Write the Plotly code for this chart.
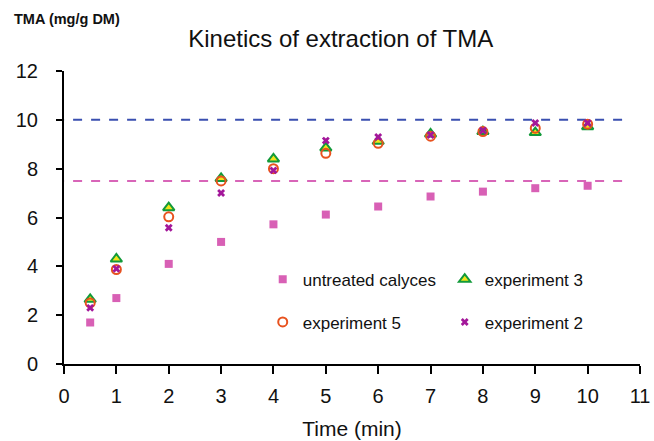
import plotly.graph_objects as go

time = [0.5, 1, 2, 3, 4, 5, 6, 7, 8, 9, 10]
untreated = [1.7, 2.7, 4.1, 5.0, 5.72, 6.12, 6.45, 6.86, 7.06, 7.2, 7.3]
exp3 = [2.65, 4.3, 6.4, 7.6, 8.4, 8.85, 9.12, 9.42, 9.52, 9.48, 9.72]
exp5 = [2.5, 3.87, 6.03, 7.5, 8.0, 8.63, 9.04, 9.33, 9.52, 9.66, 9.82]
exp2 = [2.3, 3.9, 5.58, 7.0, 7.93, 9.15, 9.3, 9.38, 9.56, 9.87, 9.87]
ref_levels = [10, 7.5]
ref_colors = ["#3A4FB0", "#D865B8"]
ref_span = [-0.17, 10.68]

font = "Liberation Sans, Arial, sans-serif"
fig = go.Figure()
fig.add_trace(go.Scatter(x=time, y=untreated, mode="markers", name="untreated calyces",
                         marker=dict(symbol="square", size=8, color="#D860B5"), legend="legend"))
fig.add_trace(go.Scatter(x=time, y=exp3, mode="markers", name="experiment 3",
                         marker=dict(symbol="triangle-up", size=10, color="#F2E51A",
                                     line=dict(color="#129A3A", width=2)), legend="legend"))
fig.add_trace(go.Scatter(x=time, y=exp5, mode="markers", name="experiment 5",
                         marker=dict(symbol="circle-open", size=9, color="#E8521E",
                                     line=dict(width=2)), legend="legend2"))
fig.add_trace(go.Scatter(x=time, y=exp2, mode="markers", name="experiment 2",
                         marker=dict(symbol="x", size=7, color="#A3179A",
                                     line=dict(width=0)), legend="legend2"))

for lvl, col in zip(ref_levels, ref_colors):
    fig.add_shape(type="line", xref="x", yref="y", x0=ref_span[0], x1=ref_span[1],
                  y0=lvl, y1=lvl, line=dict(color=col, width=2, dash="dash"), layer="below")

legend_common = dict(orientation="h", entrywidth=137, font=dict(family=font, size=17, color="#111"),
                     bgcolor="rgba(0,0,0,0)", itemwidth=30, xanchor="left", yanchor="middle")

fig.update_layout(
    width=654, height=441,
    margin=dict(l=64, r=14, t=71, b=77, autoexpand=False),
    paper_bgcolor="white", plot_bgcolor="white",
    font=dict(family=font, color="#111"),
    title=dict(text="Kinetics of extraction of TMA", x=0.521, xanchor="center",
               y=0.912, yanchor="middle", font=dict(size=24, family=font, color="#111")),
    legend=dict(x=0.345, y=0.288, **legend_common),
    legend2=dict(x=0.345, y=0.142, **legend_common),
    xaxis=dict(range=[0, 11], tickmode="linear", dtick=1, showline=True, linecolor="black",
               linewidth=2, ticks="outside", ticklen=8, tickwidth=1.5, tickcolor="black",
               showgrid=False, zeroline=False, tickfont=dict(size=20, family=font),
               ticklabelstandoff=5,
               title=dict(text="Time (min)", font=dict(size=21, family=font), standoff=15)),
    yaxis=dict(range=[0, 12], tickmode="linear", dtick=2, showline=True, linecolor="black",
               linewidth=2, ticks="outside", ticklen=6, tickwidth=1.5, tickcolor="black",
               showgrid=False, zeroline=False, tickfont=dict(size=20, family=font),
               ticklabelstandoff=14),
    annotations=[dict(text="<b>TMA (mg/g DM)</b>", xref="paper", yref="paper", x=-0.09, y=1.179,
                      xanchor="left", yanchor="middle", showarrow=False,
                      font=dict(size=14.5, family=font, color="#111"))],
)

fig.write_html("out.html")
